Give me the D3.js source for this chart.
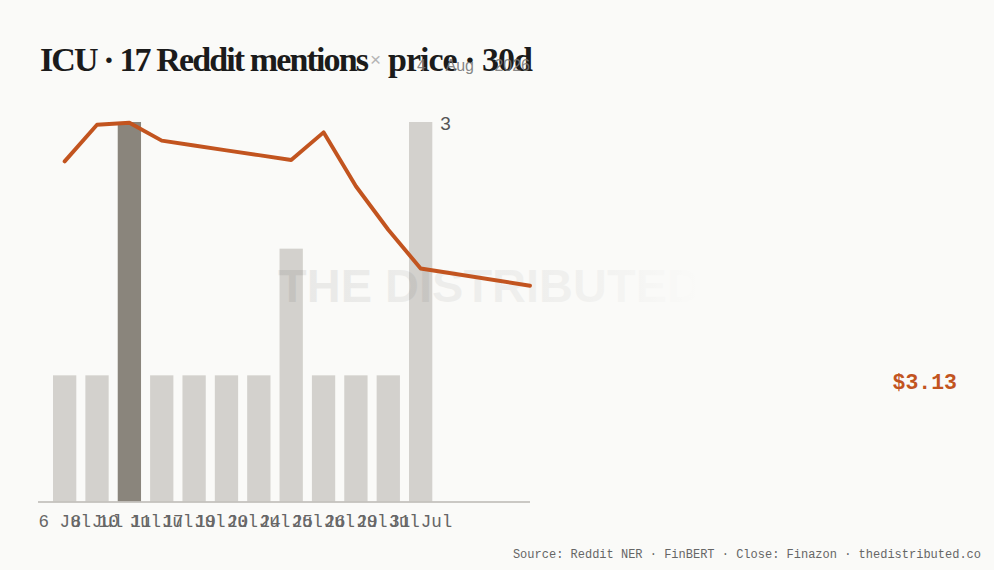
<!DOCTYPE html>
<html>
<head>
<meta charset="utf-8">
<script src="https://cdn.jsdelivr.net/npm/d3@7/dist/d3.min.js"></script>
<style>
  html, body { margin: 0; padding: 0; background: #fafaf8; }
  svg { display: block; }
</style>
</head>
<body>
<svg id="chart" width="994" height="570"></svg>
<script>
// ---- data ----
const barDates = ["6 Jul","8 Jul","10 Jul","11 Jul","17 Jul","19 Jul","20 Jul","24 Jul","25 Jul","26 Jul","29 Jul","31 Jul"];
const mentions = [1,1,3,1,1,1,1,2,1,1,1,3];
const highlightDate = "10 Jul";
const priceDates = ["6 Jul","8 Jul","10 Jul","11 Jul","17 Jul","19 Jul","20 Jul","24 Jul","25 Jul","26 Jul","29 Jul","31 Jul","4 Aug"];
const closes = [4.93,5.46,5.49,5.23,5.16,5.09,5.02,4.95,5.35,4.57,3.94,3.38,3.13];
const titleMain = "ICU · 17 Reddit mentions";
const titleSep = "×";
const titleTail = "price · 30d";
const dateLabel = "4 Aug 2026";
const lastCloseLabel = "$3.13";
const maxLabel = "3";
const watermark = "THE DISTRIBUTED";
const footer = "Source: Reddit NER · FinBERT · Close: Finazon · thedistributed.co";

// ---- layout ----
const svg = d3.select("#chart");
const plotLeft = 38, plotRight = 530, plotBase = 502, plotTop = 122;
const C = { bar: "#d3d1cd", barHi: "#8a857c", line: "#c2541f", axis: "#c4c2be", text: "#666" };

svg.append("rect").attr("width", 994).attr("height", 570).attr("fill", "#fafaf8");

const x = d3.scaleBand().domain(barDates).range([plotLeft, 447.3]).paddingInner(0.28).paddingOuter(0.4636);
const y = d3.scaleLinear().domain([0, d3.max(mentions)]).range([plotBase, plotTop]);
const yP = d3.scaleLinear().domain([0, 5.5]).range([plotBase, plotTop]);
const px = d => barDates.includes(d) ? x(d) + x.bandwidth() / 2 : plotRight;

// watermark gradient
const defs = svg.append("defs");
const grad = defs.append("linearGradient").attr("id", "wm").attr("x1", "0").attr("x2", "1");
grad.append("stop").attr("offset", "0%").attr("stop-color", "#000").attr("stop-opacity", 0.07);
grad.append("stop").attr("offset", "70%").attr("stop-color", "#000").attr("stop-opacity", 0.04);
grad.append("stop").attr("offset", "100%").attr("stop-color", "#000").attr("stop-opacity", 0.0);

// bars
svg.append("g").selectAll("rect").data(barDates).join("rect")
  .attr("x", d => x(d))
  .attr("width", x.bandwidth())
  .attr("y", (d, i) => y(mentions[i]))
  .attr("height", (d, i) => plotBase - y(mentions[i]))
  .attr("fill", d => d === highlightDate ? C.barHi : C.bar);

svg.append("text").text(watermark)
  .attr("x", 278).attr("y", 302)
  .attr("font-family", "Liberation Sans, Arial, sans-serif")
  .attr("font-weight", "bold").attr("font-size", 47)
  .attr("fill", "url(#wm)");

// axis baseline
svg.append("line").attr("x1", plotLeft).attr("x2", plotRight).attr("y1", plotBase).attr("y2", plotBase)
  .attr("stroke", C.axis).attr("stroke-width", 2).attr("stroke-opacity", 0.9);

// x labels
const xAxis = d3.axisBottom(x).tickSize(0).tickPadding(0);
const ax = svg.append("g").attr("transform", `translate(0,${plotBase})`).call(xAxis);
ax.select(".domain").remove();
ax.selectAll("text")
  .attr("y", 25).attr("dy", 0)
  .attr("font-family", "Liberation Mono, monospace").attr("font-size", 17.5)
  .attr("fill", C.text);

// price line
const line = d3.line().x(d => px(d.d)).y(d => yP(d.v));
svg.append("path")
  .datum(priceDates.map((d, i) => ({ d, v: closes[i] })))
  .attr("d", line).attr("fill", "none")
  .attr("stroke", C.line).attr("stroke-width", 3.9)
  .attr("stroke-linejoin", "round").attr("stroke-linecap", "round");

// max label
const maxIdx = mentions.lastIndexOf(d3.max(mentions));
svg.append("text").text(maxLabel)
  .attr("x", x(barDates[maxIdx]) + x.bandwidth() + 8)
  .attr("y", y(mentions[maxIdx]) + 8)
  .attr("font-family", "Liberation Sans, Arial, sans-serif").attr("font-size", 19)
  .attr("fill", "#555");

// last close label
svg.append("text").text(lastCloseLabel)
  .attr("x", 957).attr("y", 389).attr("text-anchor", "end")
  .attr("font-family", "Liberation Mono, monospace").attr("font-size", 21.5)
  .attr("font-weight", "600").attr("fill", C.line);

// title
function fit(sel, target) {
  const n = sel.text().length;
  const len = sel.node().getComputedTextLength();
  sel.attr("letter-spacing", ((target - len) / n).toFixed(2));
}
const t1 = svg.append("text").text(titleMain)
  .attr("x", 40).attr("y", 71)
  .attr("font-family", "Liberation Serif, Times New Roman, serif")
  .attr("font-weight", "bold").attr("font-size", 34).attr("fill", "#1b1b1b");
fit(t1, 327);
svg.append("text").text(titleSep)
  .attr("x", 370).attr("y", 66)
  .attr("font-family", "Liberation Sans, sans-serif").attr("font-size", 19).attr("fill", "#b5b5b5");
const t2 = svg.append("text").text(titleTail)
  .attr("x", 388).attr("y", 71)
  .attr("font-family", "Liberation Serif, Times New Roman, serif")
  .attr("font-weight", "bold").attr("font-size", 34).attr("fill", "#1b1b1b");
fit(t2, 144);

// date
svg.append("text").text(dateLabel)
  .attr("x", 530).attr("y", 71).attr("text-anchor", "end")
  .attr("font-family", "Liberation Sans, sans-serif").attr("font-size", 16)
  .attr("word-spacing", 16).attr("fill", "#777").attr("fill-opacity", 0.9);

// footer
svg.append("text").text(footer)
  .attr("x", 981).attr("y", 558).attr("text-anchor", "end")
  .attr("font-family", "Liberation Mono, monospace").attr("font-size", 12)
  .attr("fill", C.text);
</script>
</body>
</html>
